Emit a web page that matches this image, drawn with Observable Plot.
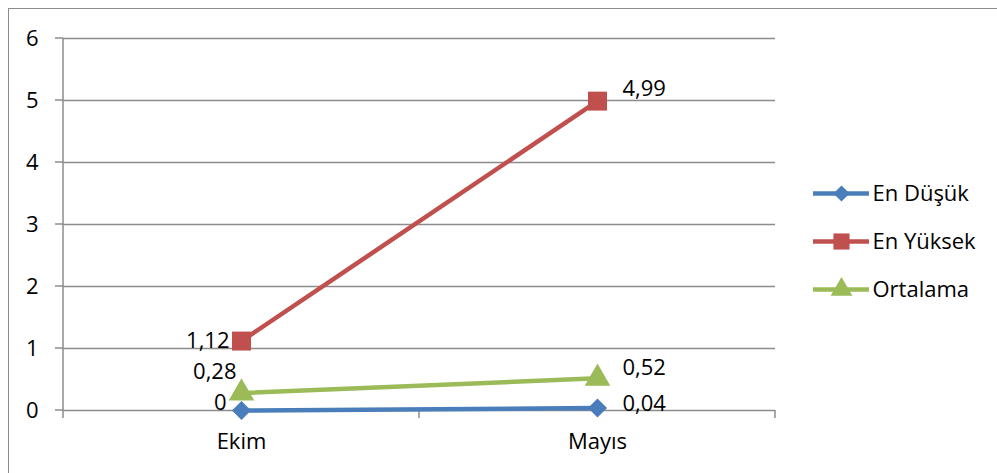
<!DOCTYPE html>
<html>
<head>
<meta charset="utf-8">
<script src="https://cdn.jsdelivr.net/npm/d3@7"></script>
<script src="https://cdn.jsdelivr.net/npm/@observablehq/plot@0.6"></script>
<style>
  html, body { margin: 0; padding: 0; background: #fff; }
  #wrap { position: relative; width: 997px; height: 473px; overflow: hidden; background: #fff; }
  #frame { position: absolute; left: 8px; top: 8px; width: 1000px; height: 480px; border: 1.5px solid #8c8c8c; box-sizing: border-box; }
  #chart, #legend { position: absolute; left: 0; top: 0; }
  svg { font-family: "Open Sans", Lato, sans-serif; }
  #chart svg text, #legend svg text { font-size: 22px; fill: #000; }
</style>
</head>
<body>
<div id="wrap">
  <div id="frame"></div>
  <div id="chart"></div>
  <div id="legend"></div>
</div>
<script>
// Categories (months) and the three series
const months = ["Ekim", "Mayıs"];
const seriesNames = ["En Düşük", "En Yüksek", "Ortalama"];
const enDusuk = [0, 0.04];
const enYuksek = [1.12, 4.99];
const ortalama = [0.28, 0.52];
const yTicks = [0, 1, 2, 3, 4, 5, 6];

const valuesBySeries = {"En Düşük": enDusuk, "En Yüksek": enYuksek, "Ortalama": ortalama};
const rows = seriesNames.flatMap(s => months.map((m, i) => ({series: s, month: m, value: valuesBySeries[s][i]})));

const colors = {"En Düşük": "#4a7ebb", "En Yüksek": "#c0504d", "Ortalama": "#9bbb59"};
const symbols = {"En Düşük": "diamond2", "En Yüksek": "square", "Ortalama": "triangle"};
const symbolR = {"En Düşük": 8.6, "En Yüksek": 10.7, "Ortalama": 9.5};
const fmt = v => String(v).replace(".", ",");
const FS = 22;

// label offsets [dx, dy] per series, for the left (Ekim) and right (Mayıs) points
const labelOffset = {
  "En Düşük": [[-15, -8], [25, -4]],
  "En Yüksek": [[-12, 0], [25, -12]],
  "Ortalama": [[-5, -21], [25, -10]]
};

const mL = 63, mR = 222;

const marks = [
  Plot.ruleY(yTicks, {stroke: "#8c8c8c", strokeWidth: 1.5}),
  Plot.axisY({ticks: yTicks, tickSize: 0, tickPadding: 25, tickFormat: d => String(d), fontSize: FS, fill: "#000", textAnchor: "end"}),
  Plot.axisX({tickSize: 0, tickPadding: 23, fontSize: FS, fill: "#000"})
];

for (const s of seriesNames) {
  const data = rows.filter(d => d.series === s);
  const [left, right] = labelOffset[s];
  marks.push(Plot.line(data, {x: "month", y: "value", stroke: colors[s], strokeWidth: 4.5}));
  marks.push(Plot.dot(data, {x: "month", y: "value", fill: colors[s], symbol: symbols[s], r: symbolR[s], stroke: null}));
  marks.push(Plot.text(data.filter(d => d.month === months[0]), {
    x: "month", y: "value", text: d => fmt(d.value), textAnchor: "end", dx: left[0], dy: left[1],
    fontSize: FS, fill: "#000"
  }));
  marks.push(Plot.text(data.filter(d => d.month === months[1]), {
    x: "month", y: "value", text: d => fmt(d.value), textAnchor: "start", dx: right[0], dy: right[1],
    fontSize: FS, fill: "#000"
  }));
}

const chart = Plot.plot({
  width: 997,
  height: 473,
  marginLeft: mL,
  marginRight: mR,
  marginTop: 38,
  marginBottom: 63,
  style: {background: "transparent", fontSize: FS + "px", color: "#000"},
  x: {type: "point", domain: months, padding: 0.5, label: null},
  y: {domain: [0, 6], label: null},
  marks
});

// axis lines and tick marks, placed with the chart's own scales
{
  const x = chart.scale("x");
  const y = chart.scale("y");
  const svg = d3.select(chart);
  const step = x.apply(months[1]) - x.apply(months[0]);
  const bounds = [x.apply(months[0]) - step / 2, x.apply(months[0]) + step / 2, x.apply(months[1]) + step / 2];
  const y0 = y.apply(0);
  const g = svg.insert("g", ":nth-child(2)").attr("stroke", "#8c8c8c").attr("stroke-width", 1.5);
  g.selectAll("line.xt").data(bounds).join("line")
    .attr("x1", d => d).attr("x2", d => d)
    .attr("y1", y0).attr("y2", y0 + 8);
  g.selectAll("line.yt").data(yTicks).join("line")
    .attr("x1", mL - 8).attr("x2", mL)
    .attr("y1", d => y.apply(d)).attr("y2", d => y.apply(d));
  g.append("line").attr("x1", mL).attr("x2", mL).attr("y1", y.apply(6)).attr("y2", y0);
}
document.getElementById("chart").appendChild(chart);

// Legend on the right: one swatch (line + marker) and label per series
const legendMarks = [];
for (const s of seriesNames) {
  const row = [{series: s}];
  legendMarks.push(Plot.ruleY(row, {y: "series", x1: 813, x2: 869, stroke: colors[s], strokeWidth: 4.5}));
  legendMarks.push(Plot.dot(row, {y: "series", x: 841, fill: colors[s], symbol: symbols[s], r: symbolR[s] * 0.85, stroke: null}));
  legendMarks.push(Plot.text(row, {y: "series", x: 872, text: "series", textAnchor: "start", fill: "#000", fontSize: FS}));
}
const legend = Plot.plot({
  width: 997,
  height: 473,
  margin: 0,
  style: {background: "transparent", fontSize: FS + "px"},
  x: {domain: [0, 997], axis: null},
  y: {type: "point", domain: seriesNames, range: [193, 289], padding: 0, axis: null},
  marks: legendMarks
});
document.getElementById("legend").appendChild(legend);
</script>
</body>
</html>
